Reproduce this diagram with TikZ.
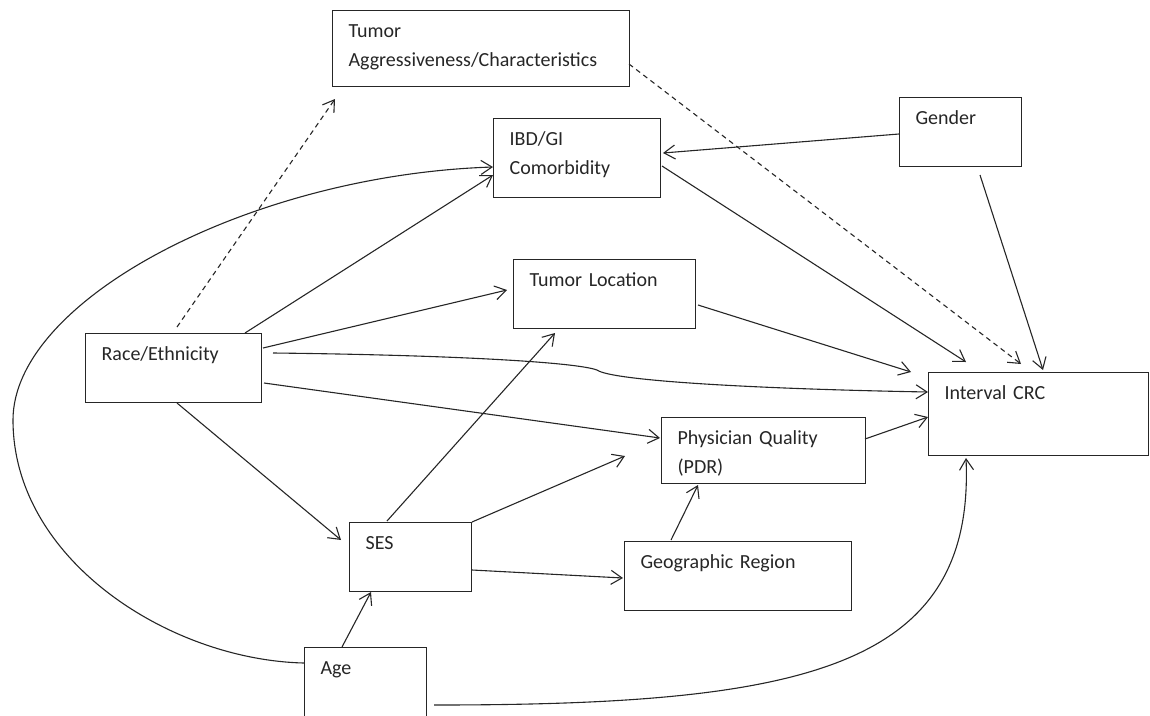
\documentclass[tikz,border=0pt]{standalone}
\usepackage{fontspec}
\setmainfont{Carlito}
\usetikzlibrary{arrows.meta,calc}

\begin{document}
\begin{tikzpicture}[x=1pt, y=-1pt,
		box/.style 2 args={draw=black!85, line width=1.2pt, anchor=north west, align=left,
			inner xsep=16pt, inner ysep=0pt, text width=#1pt-32pt,
			text height=27pt, text depth=#2pt-27pt, text=black!85,
			font=\fontsize{20}{29}\selectfont},
		link/.style={draw=black!85, line width=1.1pt, -{Straight Barb[length=11pt,width=14pt]}},
		hint/.style={link, dash pattern=on 5pt off 4pt}]
			%%%%% START %%%%%
			
			\useasboundingbox (0,0) rectangle (1150,715);
			\clip (0,0) rectangle (1150,715);
			
			\node[box={297}{76}] (agg) at (332,10) {Tumor\\Aggressiveness/Characteristics};
			\node[box={167}{79}] (ibd) at (493,118) {IBD/GI\\Comorbidity};
			\node[box={122}{69}] (gender) at (899,97) {Gender};
			\node[box={182}{69}] (loc) at (513,259) {Tumor Location};
			\node[box={176}{69}] (race) at (85,333) {Race/Ethnicity};
			\node[box={220}{83}] (crc) at (928,372) {Interval CRC};
			\node[box={204}{66}] (pdr) at (661,417) {Physician Quality\\(PDR)};
			\node[box={122}{69}] (ses) at (349,522) {SES};
			\node[box={227}{69}] (geo) at (624,541) {Geographic Region};
			\node[box={122}{80}] (age) at (304,647) {Age};
			
			% race/ethnicity
			\draw[hint] ($(race.north west)+(92,-6)$) -- ($(agg.north west)+(3,89)$);
			\draw[link] ($(race.north west)+(160,0)$) -- ($(ibd.north west)+(0,57)$);
			\draw[link] ($(race.north west)+(178,15)$) -- ($(loc.north west)+(-6,31)$);
			\draw[link] ($(race.north west)+(188,20)$) .. controls (450,355) and (575,362) .. (597,370)
				.. controls (612,381) and (760,389) .. ($(crc.north west)+(0,20)$);
			\draw[link] ($(race.north west)+(179,50)$) -- ($(pdr.north west)+(-1,21)$);
			\draw[link] ($(race.north west)+(92,70)$) -- ($(ses.north west)+(-8,18)$);
			
			% ses
			\draw[link] ($(ses.north west)+(38,-1)$) -- ($(loc.north west)+(42,74)$);
			\draw[link] ($(ses.north west)+(123,0)$) -- ($(pdr.north west)+(-36,39)$);
			\draw[link] ($(ses.north west)+(123,48)$) -- ($(geo.north west)+(-1,37)$);
			\draw[link] ($(geo.north west)+(47,-1)$) -- ($(pdr.north west)+(37,68)$);
			
			% into interval crc
			\draw[link] ($(pdr.north west)+(204,22)$) -- ($(crc.north west)+(0,45)$);
			\draw[link] ($(loc.north west)+(185,46)$) -- ($(crc.north west)+(-17,0)$);
			\draw[link] ($(ibd.north west)+(169,48)$) -- ($(crc.north west)+(38,-10)$);
			\draw[hint] ($(agg.north west)+(297,54)$) -- ($(crc.north west)+(93,-8)$);
			
			% gender
			\draw[link] ($(gender.north west)+(0,37)$) -- ($(ibd.north west)+(170,35)$);
			\draw[link] ($(gender.north west)+(81,78)$) -- ($(crc.north west)+(115,-2)$);
			
			% age
			\draw[link] ($(age.north west)+(38,0)$) -- ($(ses.north west)+(22,70)$);
			\draw[link] ($(age.north west)+(0,16)$) .. controls (170,660) and (13,560) .. (13,420)
				.. controls (13,300) and (250,175) .. ($(ibd.north west)+(0,49)$);
			\draw[link] ($(age.north west)+(130,58)$) .. controls (800,705) and (975,670) .. ($(crc.north west)+(38,86)$);
			
			%%%%% END %%%%%
		\end{tikzpicture}
\end{document}
